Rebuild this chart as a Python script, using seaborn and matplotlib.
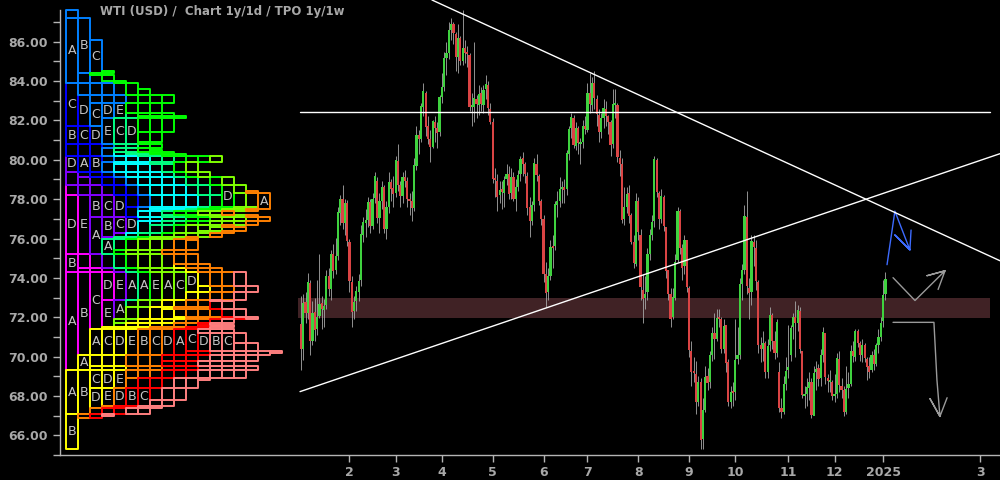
import numpy as np
import pandas as pd
import matplotlib
matplotlib.use("Agg")
import matplotlib.pyplot as plt
from matplotlib.patches import Rectangle
from matplotlib.collections import PatchCollection
import seaborn as sns

# --- data -----------------------------------------------------------------
holidays = ["2024-01-15", "2024-02-19", "2024-03-29", "2024-05-27", "2024-06-19",
            "2024-07-04", "2024-09-02", "2024-11-28", "2024-12-25", "2025-01-01"]

# daily candles Jan 2 2024 .. Jan 3 2025, one line per month
opens = [
    71.65, 70.40, 72.75, 72.20, 73.75, 70.80, 72.25, 71.40, 72.05, 72.70, 72.35, 72.60, 74.10, 73.45, 75.20, 74.40, 75.10, 77.30, 78.00, 76.80, 77.80,
    75.80, 73.80, 72.30, 72.80, 73.30, 73.90, 76.20, 76.80, 76.95, 77.85, 76.65, 78.05, 78.90, 77.05, 77.90, 78.60, 76.50, 77.60, 78.85, 78.55,
    78.30, 79.95, 78.70, 78.15, 79.10, 78.90, 77.95, 77.90, 77.55, 79.70, 81.25, 81.05, 82.70, 83.40, 81.70, 81.05, 80.65, 81.90, 81.60, 81.40,
    83.20, 83.70, 85.15, 85.40, 86.60, 86.90, 86.40, 85.20, 86.20, 85.00, 85.70, 85.40, 85.30, 82.70, 82.70, 83.10, 82.80, 83.40, 82.80, 83.60, 83.80, 82.60,
    81.90, 79.00, 78.90, 78.20, 78.50, 78.30, 79.00, 79.30, 78.30, 79.10, 78.00, 78.60, 79.30, 80.10, 79.80, 79.20, 77.60, 76.90, 77.70, 79.80, 79.20, 77.90,
    77.00, 74.20, 73.30, 74.10, 75.60, 75.60, 77.70, 77.90, 78.50, 78.60, 78.50, 80.30, 81.60, 82.10, 80.70, 81.60, 80.80, 80.90, 81.70,
    81.50, 83.40, 82.80, 83.90, 83.10, 82.30, 81.40, 82.10, 82.60, 82.20, 81.90, 80.80, 82.80, 82.80, 80.10, 79.80, 77.00, 77.60, 78.30, 77.20, 75.80, 74.70,
    77.90, 76.20, 73.40, 73.00, 73.30, 75.20, 76.20, 76.90, 80.00, 78.30, 77.00, 78.10, 76.60, 74.40, 73.20, 72.00, 73.00, 74.90, 77.40, 75.50, 74.60, 75.90,
    73.50, 70.30, 69.20, 69.10, 67.70, 68.70, 65.80, 67.30, 69.00, 68.70, 70.10, 71.20, 70.90, 72.00, 71.90, 70.40, 71.60, 69.70, 67.70, 68.20,
    68.20, 69.90, 70.10, 73.70, 74.40, 77.10, 73.50, 73.30, 75.80, 75.50, 73.80, 70.60, 70.40, 70.70, 69.20, 70.60, 72.10, 70.80, 70.20, 69.20, 67.40, 67.20, 68.60,
    69.30, 70.10, 71.50, 72.00, 71.70, 72.30, 70.30, 68.00, 68.10, 68.40, 68.70, 67.00, 69.20, 69.40, 68.90, 70.10, 71.20, 68.90, 68.70, 68.70,
    68.00, 68.10, 69.90, 68.50, 68.30, 67.20, 68.40, 68.60, 70.30, 70.00, 71.30, 70.70, 70.10, 70.60, 69.90, 69.50, 69.30, 70.10, 69.60, 70.60, 71.00,
    71.80, 73.20,
]
highs = [
    73.10, 73.20, 73.30, 74.25, 73.90, 72.80, 73.00, 73.90, 75.20, 73.10, 72.95, 74.40, 74.50, 75.40, 75.70, 76.05, 77.60, 78.20, 78.70, 78.00, 77.95,
    76.00, 74.10, 73.10, 73.60, 74.20, 76.70, 77.10, 77.50, 78.10, 78.00, 78.30, 79.40, 79.10, 78.30, 78.90, 78.70, 77.90, 79.40, 79.00, 79.20,
    80.20, 80.80, 78.90, 79.40, 79.50, 79.10, 78.30, 78.40, 80.10, 81.70, 81.50, 82.90, 83.90, 83.50, 82.20, 81.50, 82.00, 82.20, 81.90, 83.30,
    84.40, 85.50, 86.00, 87.00, 87.20, 87.00, 86.50, 86.90, 86.30, 87.60, 86.10, 85.80, 85.40, 83.40, 86.00, 83.30, 83.80, 83.70, 83.80, 84.30, 84.00, 82.90,
    82.10, 79.60, 79.30, 78.90, 78.90, 79.20, 79.80, 79.70, 79.60, 79.40, 79.00, 79.50, 80.20, 80.40, 79.90, 79.40, 78.10, 77.90, 80.10, 80.30, 79.30, 78.00,
    77.20, 74.80, 74.50, 75.90, 76.20, 77.90, 78.40, 79.10, 78.90, 79.00, 80.50, 81.70, 82.40, 82.30, 81.90, 81.70, 81.10, 82.00, 82.20,
    83.90, 84.40, 84.20, 84.50, 83.30, 82.60, 82.40, 83.10, 83.00, 82.30, 82.00, 83.60, 83.60, 82.90, 80.50, 80.10, 78.60, 78.60, 78.70, 77.30, 76.20, 78.30,
    78.10, 76.50, 74.20, 74.10, 75.50, 76.50, 77.20, 80.20, 80.10, 78.40, 78.50, 78.20, 76.60, 74.40, 73.50, 73.50, 75.20, 77.60, 77.50, 75.70, 76.20, 75.90,
    73.60, 70.80, 70.00, 69.80, 69.00, 68.90, 67.90, 69.50, 69.40, 70.30, 71.50, 72.20, 72.40, 72.40, 72.00, 71.90, 71.60, 69.90, 68.50, 68.70,
    71.90, 71.50, 74.00, 74.70, 77.70, 78.40, 74.00, 76.20, 76.20, 75.90, 73.90, 71.00, 71.30, 70.80, 70.90, 72.50, 72.20, 71.30, 71.90, 69.70, 67.90, 69.00, 70.00,
    71.60, 71.60, 72.20, 72.80, 72.60, 72.50, 70.30, 68.50, 68.90, 69.20, 68.90, 69.50, 69.80, 69.60, 70.40, 71.50, 71.20, 69.10, 69.30, 68.80,
    69.10, 70.20, 70.30, 68.90, 68.50, 69.50, 69.20, 70.60, 70.80, 71.40, 71.40, 70.80, 70.90, 70.70, 70.00, 70.00, 70.30, 70.40, 70.70, 71.40, 72.00,
    73.90, 74.30,
]
lows = [
    69.30, 69.85, 71.70, 71.90, 70.10, 70.60, 70.80, 71.10, 71.95, 71.40, 71.50, 72.40, 73.10, 72.90, 74.00, 74.20, 74.90, 76.70, 76.50, 76.20, 75.60,
    73.30, 71.50, 71.90, 72.30, 72.80, 73.60, 75.80, 76.10, 76.60, 76.30, 76.50, 77.80, 76.80, 76.30, 77.50, 76.30, 76.00, 77.30, 77.90, 77.60,
    78.10, 78.40, 77.60, 77.80, 78.60, 77.60, 77.20, 76.90, 77.40, 79.50, 80.30, 80.90, 82.20, 81.20, 80.80, 79.90, 80.60, 80.90, 80.60, 81.20,
    82.90, 83.50, 84.30, 85.10, 86.10, 85.90, 84.50, 84.40, 84.80, 84.80, 84.90, 84.70, 82.50, 81.70, 81.90, 82.10, 82.30, 82.50, 82.40, 83.10, 82.30, 81.80,
    78.80, 78.10, 77.40, 77.80, 77.50, 77.60, 78.70, 78.00, 78.00, 77.90, 77.40, 78.40, 78.90, 79.20, 78.80, 77.20, 76.10, 76.70, 77.40, 78.90, 77.70, 76.70,
    73.80, 72.50, 72.90, 73.90, 74.50, 75.40, 77.10, 77.60, 77.80, 77.80, 78.20, 80.00, 81.10, 80.60, 80.50, 80.30, 79.80, 80.60, 81.30,
    81.40, 82.40, 82.50, 82.60, 81.70, 80.90, 81.10, 81.60, 81.70, 81.30, 80.20, 80.60, 82.10, 79.90, 79.20, 76.80, 76.70, 77.30, 76.80, 75.70, 74.50, 74.60,
    75.90, 72.90, 71.70, 72.40, 72.90, 74.90, 75.90, 76.60, 78.10, 76.50, 76.80, 76.40, 74.00, 72.90, 71.50, 71.90, 72.90, 74.80, 75.20, 73.90, 74.20, 73.30,
    70.00, 68.50, 68.70, 67.10, 67.50, 65.30, 65.30, 67.20, 68.30, 68.40, 69.80, 69.90, 70.80, 71.50, 70.20, 70.20, 69.20, 67.50, 67.40, 67.50,
    67.80, 69.60, 69.90, 72.90, 74.20, 73.20, 71.90, 72.60, 74.60, 73.40, 70.20, 69.70, 69.80, 68.90, 68.90, 70.30, 70.40, 69.90, 70.00, 67.20, 66.90, 67.10, 68.30,
    68.90, 69.80, 70.90, 70.00, 71.30, 70.20, 67.90, 67.40, 67.50, 67.80, 66.90, 67.10, 68.30, 68.50, 68.50, 69.70, 68.60, 68.20, 68.20, 67.80,
    67.70, 67.90, 68.20, 67.90, 67.00, 67.10, 67.90, 68.50, 69.70, 69.80, 70.50, 69.80, 69.70, 69.70, 68.80, 68.90, 69.20, 69.30, 69.50, 70.20, 70.80,
    71.50, 72.90,
]
closes = [
    70.38, 72.70, 72.19, 73.81, 70.77, 72.24, 71.37, 72.02, 72.68, 72.40, 72.56, 74.08, 73.41, 75.19, 74.37, 75.09, 77.36, 78.01, 76.78, 77.82, 75.85,
    73.82, 72.28, 72.78, 73.31, 73.86, 76.22, 76.84, 76.92, 77.87, 76.64, 78.03, 79.19, 77.04, 77.91, 78.61, 76.49, 77.58, 78.87, 78.54, 78.26,
    79.97, 78.74, 78.15, 79.13, 78.93, 78.01, 77.93, 77.56, 79.72, 81.26, 81.04, 82.72, 83.47, 81.68, 81.07, 80.63, 81.95, 81.62, 81.35, 83.17,
    83.71, 85.15, 85.43, 86.59, 86.91, 86.43, 85.23, 86.21, 85.02, 85.66, 85.41, 85.36, 82.69, 82.73, 83.14, 82.85, 83.36, 82.81, 83.57, 83.85, 82.63, 81.93,
    79.00, 78.95, 78.11, 78.48, 78.38, 78.99, 79.26, 78.26, 79.12, 78.02, 78.63, 79.23, 80.06, 79.80, 79.26, 77.57, 76.87, 77.72, 79.83, 79.23, 77.91, 76.99,
    74.22, 73.25, 74.07, 75.55, 75.53, 77.74, 77.90, 78.50, 78.62, 78.45, 80.33, 81.57, 82.17, 80.73, 81.63, 80.83, 80.90, 81.74, 81.54,
    83.38, 82.81, 83.88, 83.16, 82.33, 81.41, 82.10, 82.62, 82.21, 81.91, 80.76, 82.85, 82.82, 80.13, 79.78, 76.96, 77.59, 78.28, 77.16, 75.81, 74.73, 77.91,
    76.31, 73.52, 72.94, 73.20, 75.23, 76.19, 76.84, 80.06, 78.35, 76.98, 78.16, 76.65, 74.37, 73.17, 71.93, 73.01, 74.83, 77.42, 75.53, 74.52, 75.91, 73.55,
    70.34, 69.20, 69.15, 67.67, 68.71, 65.75, 67.31, 68.97, 68.65, 70.09, 71.19, 70.91, 71.95, 71.92, 70.37, 71.56, 69.69, 67.67, 68.18, 68.17,
    69.83, 70.10, 73.71, 74.38, 77.14, 73.57, 73.24, 75.85, 75.56, 73.83, 70.58, 70.39, 70.67, 69.22, 70.56, 72.09, 70.77, 70.19, 71.78, 67.38, 67.21, 68.61, 69.26,
    69.49, 71.47, 71.99, 71.69, 72.36, 70.38, 68.04, 68.12, 68.43, 68.70, 67.02, 69.16, 69.39, 68.87, 70.10, 71.24, 68.94, 68.77, 68.72, 68.00,
    68.10, 69.94, 68.54, 68.30, 67.20, 68.37, 68.59, 70.29, 70.02, 71.29, 70.71, 70.08, 70.58, 69.91, 69.46, 69.24, 70.10, 69.62, 70.60, 70.99, 71.72,
    73.13, 73.96,
]

# drawn objects (x in trading-day index, y in price)
resist_x, resist_y = [56.7, 302.6], [88.12, 74.87]
support_x, support_y = [-0.4, 302.6], [68.22, 80.31]
hline_level, hline_x = 82.42, [-0.4, 298.3]
zone_lo, zone_hi, zone_x = 71.94, 73.00, [-1.3, 298.3]

proj_up_x = [253.7, 257.1, 263.6, 257.1, 263.6, 264.1]
proj_up_y = [74.67, 77.39, 75.42, 76.18, 75.42, 76.43]
proj_mid_x = [256.3, 265.8, 278.8, 271.0, 278.8, 275.8]
proj_mid_y = [74.01, 72.85, 74.36, 74.11, 74.36, 73.41]
proj_dn_x = [256.3, 274.0, 275.3, 276.6, 272.3, 276.6, 279.7]
proj_dn_y = [71.74, 71.74, 68.82, 66.96, 67.86, 66.96, 67.91]

month_colors = ["#ff00ff", "#8000ff", "#0000ff", "#0080ff", "#00ffff", "#00ff80",
                "#00ff00", "#80ff00", "#ffff00", "#ff8000", "#ff0000", "#ff8080"]
letters = "ABCDE"
ytick_vals = [66, 68, 70, 72, 74, 76, 78, 80, 82, 84, 86]

# --- frame ----------------------------------------------------------------
dates = pd.bdate_range("2024-01-02", periods=len(closes), freq="C", holidays=holidays)
df = pd.DataFrame({"date": dates, "open": opens, "high": highs, "low": lows, "close": closes})
df["i"] = np.arange(len(df))

sns.set_theme(style="dark", rc={"axes.facecolor": "black", "figure.facecolor": "black",
                                "axes.grid": False})
plt.rcParams["font.family"] = ["DejaVu Sans"]
txt = "#a8a8a8"

fig = plt.figure(figsize=(10, 4.8), dpi=100)
ax = fig.add_axes([0.06, 25 / 480, 0.94, 445 / 480])
ax.set_facecolor("black")
ax.set_xlim(-104.3, 302.6)
ax.set_ylim(65.19, 87.61)

# zone + lines
ax.fill_between(zone_x, zone_lo, zone_hi, color="#402225", lw=0, zorder=1)
ax.plot(hline_x, [hline_level] * 2, color="white", lw=1, zorder=4)
ax.plot(resist_x, resist_y, color="white", lw=1, zorder=4, clip_on=False)
ax.plot(support_x, support_y, color="white", lw=1, zorder=4)

# candles
up = df["close"] >= df["open"]
body_lo = np.minimum(df["open"], df["close"])
body_h = np.maximum((df["close"] - df["open"]).abs(), 0.1)
ax.vlines(df["i"], df["low"], df["high"], color="#a8a8a8", lw=0.6, zorder=2)
ax.bar(df["i"], body_h, bottom=body_lo, width=0.95,
       color=np.where(up, "#3fd23f", "#da4444"), lw=0, zorder=3)

# projections
sns.lineplot(x=proj_up_x, y=proj_up_y, sort=False, estimator=None, color="#3d6bff", lw=1, ax=ax)
sns.lineplot(x=proj_mid_x, y=proj_mid_y, sort=False, estimator=None, color="#9a9a9a", lw=1, ax=ax)
sns.lineplot(x=proj_dn_x, y=proj_dn_y, sort=False, estimator=None, color="#9a9a9a", lw=1, ax=ax)

# axes styling
for s in ["top", "right"]:
    ax.spines[s].set_visible(False)
for s in ["left", "bottom"]:
    ax.spines[s].set_color("#b4b4b4")
    ax.spines[s].set_linewidth(1)
ax.set_yticks(ytick_vals)
ax.set_yticklabels([f"{v:.2f}" for v in ytick_vals], color=txt, fontsize=9, fontweight="bold")
ax.set_yticks([v + 1 for v in ytick_vals[:-1]] + [65, 87], minor=True)
ax.tick_params(axis="y", which="both", length=5, width=1, color="#b4b4b4", direction="out", left=True)

first = df.groupby(df["date"].dt.to_period("M"))["i"].min()
tick_pos = list(first.values[1:])
tick_lab = [str(p.year) if p.month == 1 else str(p.month) for p in first.index[1:]]
future = pd.bdate_range(dates[-1] + pd.Timedelta(days=1), "2025-03-03")
tick_pos.append(len(df) - 1 + len(future))
tick_lab.append("3")
ax.set_xticks(tick_pos)
ax.set_xticklabels(tick_lab, color=txt, fontsize=9, fontweight="bold")
ax.tick_params(axis="x", length=5, width=1, color="#b4b4b4", direction="out", bottom=True, pad=3)
ax.set_xlabel("")
ax.set_ylabel("")

# --- TPO profile (weekly ranges, lettered by week of month) ----------------
df["week"] = df["date"] - pd.to_timedelta(df["date"].dt.weekday, unit="D")
weeks = df.groupby("week").agg(lo=("low", "min"), hi=("high", "max")).reset_index()
weeks["month"] = weeks["week"].dt.month
weeks["n"] = weeks.groupby("month").cumcount()

ax2 = ax.twiny()
ax2.set_xlim(-0.5, -0.5 + 940 / 12)
ax2.patch.set_visible(False)
ax2.set_xticks([])
for s in ax2.spines.values():
    s.set_visible(False)

step = 0.1
centers = np.round(np.arange(65.05, 88.0, step), 2)
lo = weeks["lo"].values
hi = weeks["hi"].values
cover = (lo[:, None] <= centers[None, :]) & (hi[:, None] >= centers[None, :])
col = np.cumsum(cover, axis=0) - 1

rects, edges = [], []
for w in range(len(weeks)):
    color = month_colors[weeks["month"].iloc[w] - 1]
    letter = letters[min(weeks["n"].iloc[w], 4)]
    j = 0
    while j < len(centers):
        if not cover[w, j]:
            j += 1
            continue
        k = j
        while k + 1 < len(centers) and cover[w, k + 1] and col[w, k + 1] == col[w, j]:
            k += 1
        y0 = centers[j] - step / 2
        h = (k - j + 1) * step
        c = col[w, j]
        rects.append(Rectangle((c + 0.04, y0), 0.92, h))
        edges.append(color)
        if h >= 0.8:
            ax2.text(c + 0.5, y0 + h / 2, letter, ha="center", va="center",
                     fontsize=9, color="#c4c4c4", zorder=6)
        j = k + 1

pc = PatchCollection(rects, facecolor="black", edgecolor=edges, linewidths=1.4, zorder=5)
pc.set_clip_on(False)
ax2.add_collection(pc)

fig.text(0.1, 1 - 11 / 480, "WTI (USD) /  Chart 1y/1d / TPO 1y/1w", color=txt,
         fontsize=8.5, fontweight="bold", va="center", ha="left")

fig.savefig("out.png", dpi=100, facecolor="black")
